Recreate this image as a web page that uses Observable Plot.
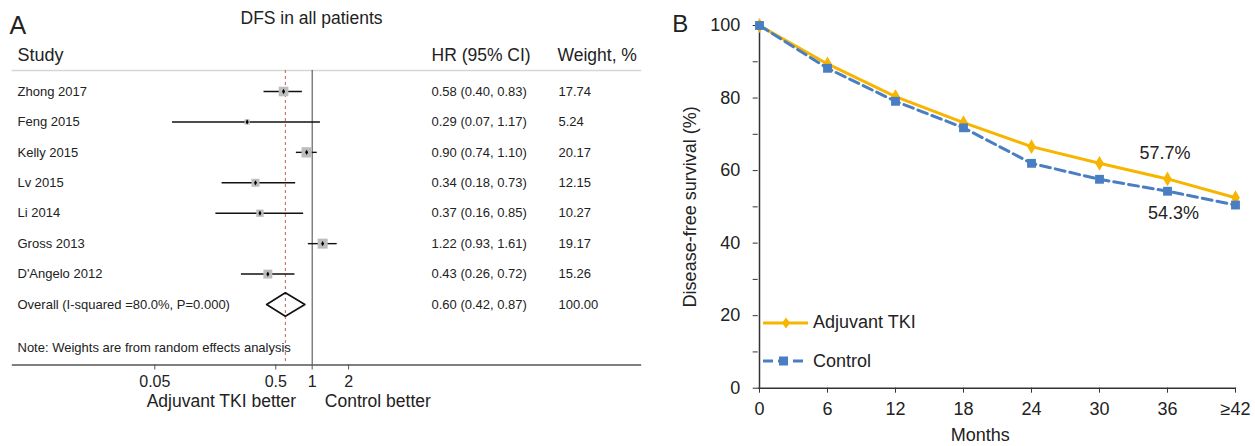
<!DOCTYPE html>
<html>
<head>
<meta charset="utf-8">
<script src="https://cdn.jsdelivr.net/npm/d3@7"></script>
<script src="https://cdn.jsdelivr.net/npm/@observablehq/plot@0.6"></script>
<style>
  html, body { margin: 0; padding: 0; background: #fff; }
  #wrap { position: relative; width: 1255px; height: 446px; overflow: hidden; font-family: "Liberation Sans", Arial, sans-serif; }
  #wrap svg.plot { position: absolute; top: 0; max-width: none; }
  #legend { position: absolute; left: 763px; top: 303.5px; color: #222; font-size: 18px; }
  .item { display: flex; align-items: center; height: 38.5px; }
  .item span { margin-left: 4px; }
</style>
</head>
<body>
<div id="wrap"></div>
<script>
// ---------- Panel A data (forest plot) ----------
const studies = ["Zhong 2017", "Feng 2015", "Kelly 2015", "Lv 2015", "Li 2014", "Gross 2013", "D'Angelo 2012"];
const hr      = [0.58, 0.29, 0.90, 0.34, 0.37, 1.22, 0.43];
const ciLow   = [0.40, 0.07, 0.74, 0.18, 0.16, 0.93, 0.26];
const ciHigh  = [0.83, 1.17, 1.10, 0.73, 0.85, 1.61, 0.72];
const weights = [17.74, 5.24, 20.17, 12.15, 10.27, 19.17, 15.26];
const overallLabel = "Overall (I-squared =80.0%, P=0.000)";
const overallHR = 0.60, overallLow = 0.42, overallHigh = 0.87, overallWeight = 100.00;
const forestTicks = [0.05, 0.5, 1, 2];

// ---------- Panel B data (DFS curves) ----------
const months = ["0", "6", "12", "18", "24", "30", "36", "\u226542"];
const tkiDFS = [100, 89.4, 80.4, 73.2, 66.6, 62.0, 57.7, 52.5];
const controlDFS = [100, 88.2, 79.1, 71.8, 62.0, 57.6, 54.3, 50.5];
const yMajor = [0, 20, 40, 60, 80, 100];
const yMinor = [10, 30, 50, 70, 90];
const annotMonths = ["36", "36"];
const annotValues = [57.7, 54.3];
const annotLabels = ["57.7%", "54.3%"];

const FONT = '"Liberation Sans", Arial, sans-serif';
const ORANGE = "#F7B500";
const BLUE = "#4A7EC3";

const fmt = v => v.toFixed(2);
const rows = studies.map((s, i) => ({
  study: s, row: i, hr: hr[i], lo: ciLow[i], hi: ciHigh[i], w: weights[i],
  ci: `${fmt(hr[i])} (${fmt(ciLow[i])}, ${fmt(ciHigh[i])})`, wt: fmt(weights[i])
}));
const overallRow = {
  study: overallLabel, row: studies.length, hr: overallHR, lo: overallLow, hi: overallHigh,
  ci: `${fmt(overallHR)} (${fmt(overallLow)}, ${fmt(overallHigh)})`, wt: fmt(overallWeight)
};
const tableRows = [...rows, overallRow];
const halfH = 0.385; // diamond half-height in row units
const diamond = [
  {x: overallLow, y: overallRow.row}, {x: overallHR, y: overallRow.row - halfH},
  {x: overallHigh, y: overallRow.row}, {x: overallHR, y: overallRow.row + halfH},
  {x: overallLow, y: overallRow.row}
];

const M = {lineAnchor: "middle"};

const plotA = Plot.plot({
  width: 660, height: 446,
  marginLeft: 12, marginRight: 20, marginTop: 70, marginBottom: 81.5,
  x: {type: "log", domain: [0.05, 2], range: [154.3, 348.1]},
  y: {domain: [0, 7], range: [91, 304], axis: null},
  r: {type: "sqrt", domain: [0, 20.17], range: [0, 5.8]},
  style: {fontFamily: FONT, fontSize: "13px", color: "#222", background: "#fff", overflow: "visible"},
  marks: [
    Plot.frame({anchor: "top", stroke: "#d6d6d6", strokeWidth: 1.6}),
    Plot.frame({anchor: "bottom", stroke: "#555", strokeWidth: 1.3}),
    Plot.ruleX([1], {stroke: "#444", strokeWidth: 1}),
    Plot.ruleX([overallHR], {stroke: "#c45c5c", strokeWidth: 1, strokeDasharray: "3,3"}),
    Plot.ruleY(rows, {y: "row", x1: "lo", x2: "hi", stroke: "#111", strokeWidth: 1.4}),
    Plot.dot(rows, {x: "hr", y: "row", r: "w", symbol: "square", fill: "#bdbdbd"}),
    Plot.dot(rows, {x: "hr", y: "row", r: 1.6, symbol: "diamond", fill: "#000"}),
    Plot.line(diamond, {x: "x", y: "y", stroke: "#111", strokeWidth: 1.6}),
    // table text
    Plot.text(tableRows, {...M, y: "row", text: "study", frameAnchor: "left", dx: 5, textAnchor: "start", fontSize: 13}),
    Plot.text(tableRows, {...M, y: "row", text: "ci", frameAnchor: "left", dx: 419, textAnchor: "start", fontSize: 13}),
    Plot.text(tableRows, {...M, y: "row", text: "wt", frameAnchor: "left", dx: 546, textAnchor: "start", fontSize: 13}),
    // headers
    Plot.text(["Study"], {...M, frameAnchor: "top-left", dx: 5, dy: -15, textAnchor: "start", fontSize: 18}),
    Plot.text(["HR (95% CI)"], {...M, frameAnchor: "top-left", dx: 419, dy: -15, textAnchor: "start", fontSize: 17.5}),
    Plot.text(["Weight, %"], {...M, frameAnchor: "top-left", dx: 545, dy: -15, textAnchor: "start", fontSize: 17.5}),
    Plot.text(["DFS in all patients"], {...M, frameAnchor: "top-left", dx: 299, dy: -52, textAnchor: "middle", fontSize: 17.5}),
    Plot.text(["A"], {...M, frameAnchor: "top-left", dx: -3, dy: -45, textAnchor: "start", fontSize: 25}),
    Plot.text(["Note: Weights are from random effects analysis"], {...M, frameAnchor: "bottom-left", dx: 5, dy: -17, textAnchor: "start", fontSize: 13}),
    // axis + directions
    Plot.axisX({ticks: forestTicks, tickFormat: d => String(d), tickSize: 5, tickPadding: 6, fontSize: 16, label: null, stroke: "#555"}),
    Plot.text(["Adjuvant TKI better"], {...M, x: [1], frameAnchor: "bottom", dx: -16, dy: 36, textAnchor: "end", fontSize: 17.5}),
    Plot.text(["Control better"], {...M, x: [1], frameAnchor: "bottom", dx: 12.6, dy: 36, textAnchor: "start", fontSize: 17.5})
  ]
});
plotA.classList.add("plot");
plotA.style.left = "0px";

const tki = months.map((m, i) => ({month: m, v: tkiDFS[i]}));
const ctl = months.map((m, i) => ({month: m, v: controlDFS[i]}));
const annots = annotLabels.map((t, i) => ({month: annotMonths[i], v: annotValues[i], t}));

const plotB = Plot.plot({
  width: 595, height: 446,
  marginLeft: 97.7, marginRight: 19, marginTop: 25, marginBottom: 58.3,
  x: {type: "point", domain: months, padding: 0},
  y: {domain: [0, 100]},
  style: {fontFamily: FONT, fontSize: "18px", color: "#222", background: "transparent", overflow: "visible"},
  marks: [
    Plot.axisY({ticks: yMajor, tickSize: 5, tickPadding: 13, fontSize: 18, label: null, stroke: "#333"}),
    Plot.axisY({ticks: yMinor, tickSize: 5, tickFormat: () => "", label: null, stroke: "#333"}),
    Plot.axisX({tickSize: 5, tickPadding: 9, fontSize: 18, label: null, stroke: "#333"}),
    Plot.ruleY([0], {stroke: "#333", strokeWidth: 1.5}),
    Plot.ruleX([months[0]], {stroke: "#333", strokeWidth: 1.5}),
    Plot.line(tki, {x: "month", y: "v", stroke: ORANGE, strokeWidth: 3}),
    Plot.dot(tki, {x: "month", y: "v", symbol: "diamond", r: 4.5, fill: ORANGE}),
    Plot.line(ctl, {x: "month", y: "v", stroke: BLUE, strokeWidth: 3, strokeDasharray: "10,5"}),
    Plot.dot(ctl, {x: "month", y: "v", symbol: "square", r: 5, fill: BLUE}),
    Plot.text([annots[0]], {...M, x: "month", y: "v", text: "t", dx: -2.5, dy: -26, fontSize: 18}),
    Plot.text([annots[1]], {...M, x: "month", y: "v", text: "t", dx: 6, dy: 22, fontSize: 18}),
    Plot.text(["Disease-free survival (%)"], {...M, frameAnchor: "left", dx: -67.7, rotate: -90, textAnchor: "middle", fontSize: 18}),
    Plot.text(["Months"], {...M, frameAnchor: "bottom", dx: -17, dy: 47, fontSize: 18}),
    Plot.text(["B"], {...M, frameAnchor: "top-left", dx: -86, dy: -1, textAnchor: "start", fontSize: 24})
  ]
});
plotB.classList.add("plot");
plotB.style.left = "660px";

const wrap = document.getElementById("wrap");
wrap.appendChild(plotA);
wrap.appendChild(plotB);

// Legend (HTML overlay)
const legend = document.createElement("div");
legend.id = "legend";
legend.innerHTML = `
  <div class="item"><svg width="46" height="14"><line x1="0" y1="7" x2="45" y2="7" stroke="${ORANGE}" stroke-width="3"/><path d="M23,1.5 L27,7 L23,12.5 L19,7 Z" fill="${ORANGE}"/></svg><span>Adjuvant TKI</span></div>
  <div class="item"><svg width="46" height="14"><line x1="0" y1="7" x2="42" y2="7" stroke="${BLUE}" stroke-width="3" stroke-dasharray="10,5"/><rect x="16" y="2.5" width="9" height="9" fill="${BLUE}"/></svg><span>Control</span></div>`;
wrap.appendChild(legend);
</script>
</body>
</html>
